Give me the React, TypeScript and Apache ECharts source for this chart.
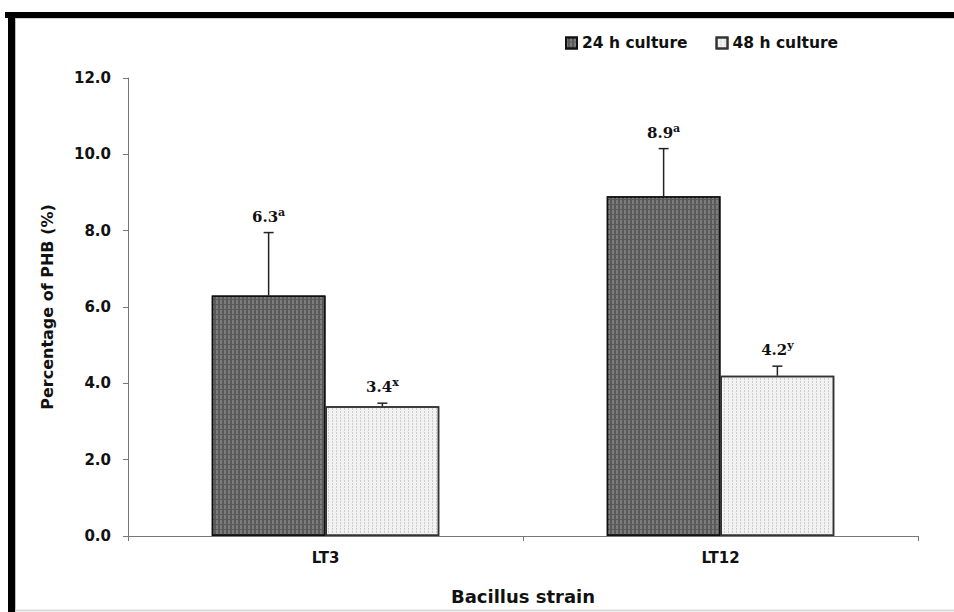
import React, { useEffect, useRef } from "react";
import * as echarts from "echarts";

// Bacillus strains on the category axis
const categories = ["LT3", "LT12"];

// PHB content (%) after each culture time
const culture24h = [6.3, 8.9];
const culture48h = [3.4, 4.2];

// Standard deviations (error bar heights)
const error24h = [1.65, 1.25];
const error48h = [0.08, 0.25];

// Significance letters shown as superscripts
const letters24h = ["a", "a"];
const letters48h = ["x", "y"];

// Y-axis ticks
const yMin = 0;
const yMax = 12;
const yStep = 2;

const SANS = "DejaVu Sans";
const SERIF = "DejaVu Serif";
const BAR_FRACTION = 0.288;

function errorSeries(
  name: string,
  values: number[],
  errors: number[],
  letters: string[],
  side: number
) {
  return {
    type: "custom",
    name,
    silent: true,
    z: 5,
    data: values.map((v, i) => [i, v, errors[i]]),
    renderItem: (params: any, api: any) => {
      const idx = api.value(0);
      const val = api.value(1);
      const err = api.value(2);
      const i = params.dataIndex;
      const band = api.size([1, 0])[0];
      const base = api.coord([idx, val]);
      const top = api.coord([idx, val + err]);
      const x = base[0] + side * band * BAR_FRACTION * 0.5;
      const cap = 5;
      const label = `{v|${values[i].toFixed(1)}}{s|${letters[i]}}`;
      return {
        type: "group",
        children: [
          {
            type: "line",
            shape: { x1: x, y1: base[1], x2: x, y2: top[1] },
            style: { stroke: "#222", lineWidth: 1.5 },
          },
          {
            type: "line",
            shape: { x1: x - cap, y1: top[1], x2: x + cap, y2: top[1] },
            style: { stroke: "#222", lineWidth: 1.5 },
          },
          {
            type: "text",
            x: x,
            y: top[1] - 6,
            style: {
              text: label,
              align: "center",
              verticalAlign: "bottom",
              rich: {
                v: {
                  fontFamily: SERIF,
                  fontWeight: "bold",
                  fontSize: 15,
                  lineHeight: 20,
                  fill: "#111",
                },
                s: {
                  fontFamily: SERIF,
                  fontWeight: "bold",
                  fontSize: 11,
                  lineHeight: 11,
                  verticalAlign: "top",
                  fill: "#111",
                },
              },
            },
          },
        ],
      };
    },
  };
}

export default function App() {
  const ref = useRef<HTMLDivElement>(null);

  useEffect(() => {
    if (!ref.current) return;
    const chart = echarts.init(ref.current, undefined, { renderer: "svg" });

    const darkStyle = {
      color: "#5a5a5a",
      borderColor: "#111",
      borderWidth: 1.5,
      decal: {
        symbol: "rect",
        symbolSize: 1,
        color: "rgba(150,150,150,0.55)",
        dashArrayX: [2, 2],
        dashArrayY: [4, 1],
      },
    };
    const lightStyle = {
      color: "#f2f2f2",
      borderColor: "#333",
      borderWidth: 1.5,
      decal: {
        symbol: "rect",
        symbolSize: 1,
        color: "rgba(175,175,175,0.55)",
        dashArrayX: [1, 3],
        dashArrayY: [2, 1],
      },
    };

    chart.setOption({
      animation: false,
      backgroundColor: "#ffffff",
      grid: { left: 128, right: 36, top: 78, bottom: 76, containLabel: false },
      legend: {
        left: 560,
        top: 30,
        icon: "rect",
        itemWidth: 11,
        itemHeight: 11,
        itemGap: 28,
        data: ["24 h culture", "48 h culture"],
        textStyle: {
          fontFamily: SANS,
          fontWeight: "bold",
          fontSize: 15.5,
          color: "#111",
        },
      },
      xAxis: {
        type: "category",
        data: categories,
        name: "Bacillus strain",
        nameLocation: "middle",
        nameGap: 51,
        nameTextStyle: {
          fontFamily: SANS,
          fontWeight: "bold",
          fontSize: 18,
          color: "#111",
        },
        axisLine: { lineStyle: { color: "#777", width: 1 } },
        axisTick: { show: true, length: 5, lineStyle: { color: "#777" } },
        axisLabel: {
          margin: 14,
          fontFamily: SANS,
          fontWeight: "bold",
          fontSize: 15,
          color: "#111",
        },
      },
      yAxis: {
        type: "value",
        min: yMin,
        max: yMax,
        interval: yStep,
        name: "Percentage of PHB (%)",
        nameLocation: "middle",
        nameGap: 73,
        nameTextStyle: {
          fontFamily: SANS,
          fontWeight: "bold",
          fontSize: 16,
          color: "#111",
        },
        splitLine: { show: false },
        axisLine: { show: true, lineStyle: { color: "#777", width: 1 } },
        axisTick: { show: true, length: 5, lineStyle: { color: "#777" } },
        axisLabel: {
          margin: 17,
          formatter: (v: number) => v.toFixed(1),
          fontFamily: SANS,
          fontWeight: "bold",
          fontSize: 15,
          color: "#111",
        },
      },
      series: [
        {
          type: "bar",
          name: "24 h culture",
          data: culture24h,
          barWidth: `${BAR_FRACTION * 100}%`,
          barGap: "0%",
          itemStyle: darkStyle,
        },
        {
          type: "bar",
          name: "48 h culture",
          data: culture48h,
          barWidth: `${BAR_FRACTION * 100}%`,
          barGap: "0%",
          itemStyle: lightStyle,
        },
        errorSeries("err24", culture24h, error24h, letters24h, -1),
        errorSeries("err48", culture48h, error48h, letters48h, 1),
      ],
      graphic: [
        // page frame
        { type: "rect", shape: { x: 5, y: 12, width: 949, height: 6 }, style: { fill: "#000" }, silent: true },
        { type: "rect", shape: { x: 8, y: 12, width: 7, height: 600 }, style: { fill: "#000" }, silent: true },
        { type: "line", shape: { x1: 15, y1: 18.5, x2: 954, y2: 18.5 }, style: { stroke: "#cfcfcf", lineWidth: 1 }, silent: true },
        { type: "line", shape: { x1: 15.5, y1: 18, x2: 15.5, y2: 612 }, style: { stroke: "#bdbdbd", lineWidth: 1 }, silent: true },
        { type: "line", shape: { x1: 15, y1: 610.5, x2: 954, y2: 610.5 }, style: { stroke: "#d9d9d9", lineWidth: 2 }, silent: true },
      ],
    });

    return () => chart.dispose();
  }, []);

  return (
    <div
      ref={ref}
      style={{ position: "absolute", left: 0, top: 0, width: 954, height: 612 }}
    />
  );
}
